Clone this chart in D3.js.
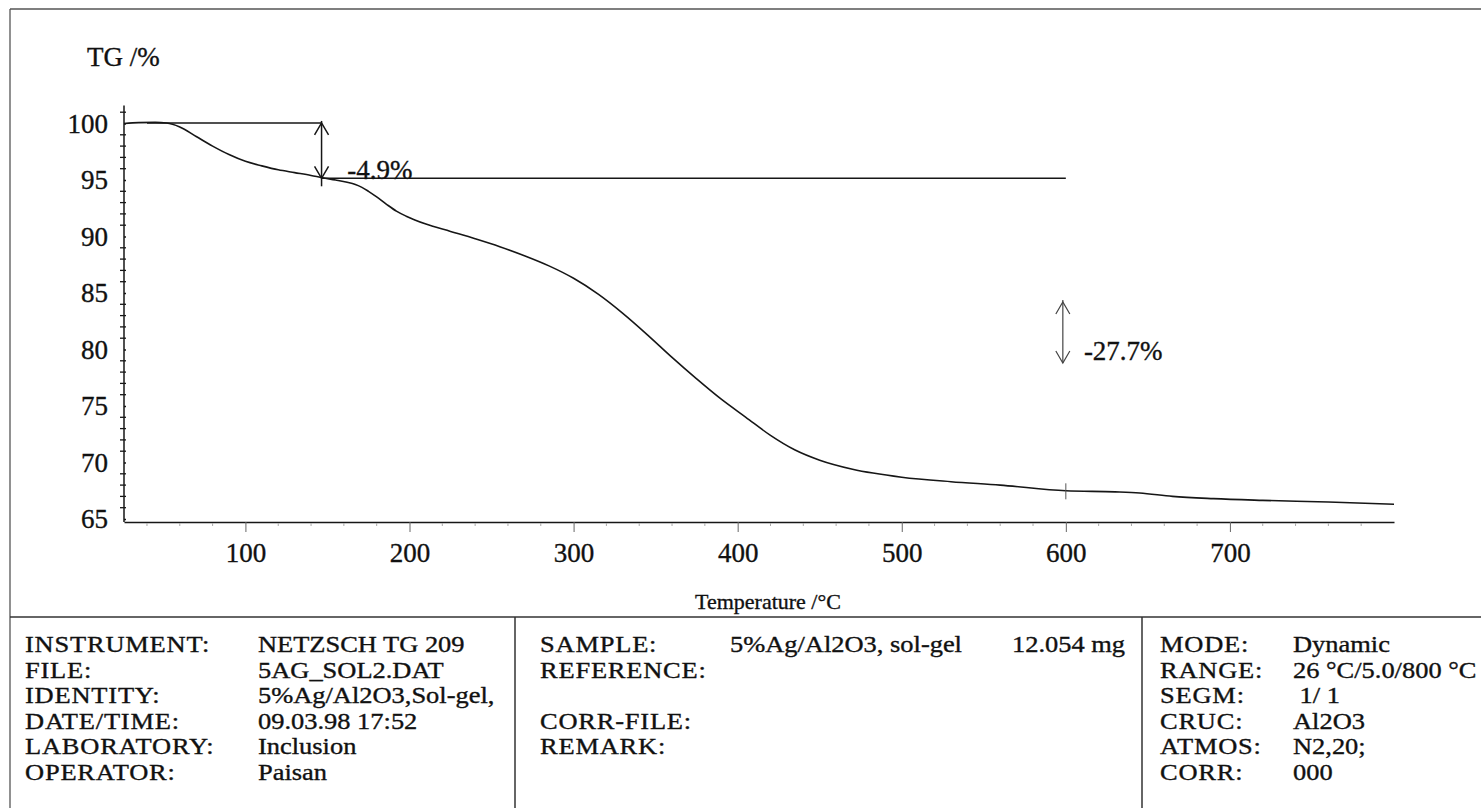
<!DOCTYPE html>
<html>
<head>
<meta charset="utf-8">
<script src="https://cdn.jsdelivr.net/npm/d3@7"></script>
<style>
  html, body { margin: 0; padding: 0; background: #fff; }
  svg { display: block; }
  text { font-family: "Liberation Serif", "Times New Roman", serif; fill: #111; stroke: #111; stroke-width: 0.35px; }
</style>
</head>
<body>
<svg id="chart" width="1481" height="808"></svg>
<script>
// TG curve: temperature (°C) and remaining mass (%)
const temperature = [26, 35, 45, 52, 60, 70, 80, 90, 100, 110, 120, 130, 140, 147, 155, 162, 167, 171, 175, 180,
  186, 192, 198, 210, 225, 240, 255, 270, 285, 300, 315, 330, 345, 360, 375, 390, 405, 420, 435, 450,
  470, 500, 530, 560, 600, 630, 645, 665, 690, 720, 760, 800];
const tgPercent = [100.0, 100.08, 100.1, 100.05, 99.7, 98.85, 98.0, 97.25, 96.65, 96.25, 95.9, 95.65, 95.4, 95.2, 95.0, 94.8, 94.6, 94.35, 94.0, 93.5,
  92.85, 92.25, 91.8, 91.1, 90.45, 89.8, 89.1, 88.3, 87.4, 86.3, 84.9, 83.2, 81.3, 79.3, 77.4, 75.6, 74.0, 72.4, 71.1, 70.2,
  69.4, 68.7, 68.3, 68.0, 67.5, 67.4, 67.3, 67.0, 66.8, 66.65, 66.5, 66.3];

const xTickValues = [100, 200, 300, 400, 500, 600, 700];
const yTickValues = [65, 70, 75, 80, 85, 90, 95, 100];

// Mass-loss steps
const stepLabels = ["-4.9%", "-27.7%"];
const stepLosses = [-4.9, -27.7];
const stepTemps = [146.4, 600];
const plateauLevel = [100.05];
const plateauFrom = [40];
const stepArrowSpan = [84.2, 78.8];   // short marker arrow for the second step
const stepLabelPos = [[162, 95.1], [611, 79.1]];

// Measurement info block
const infoLabels1 = ["INSTRUMENT:", "FILE:", "IDENTITY:", "DATE/TIME:", "LABORATORY:", "OPERATOR:"];
const infoValues1 = ["NETZSCH TG 209", "5AG_SOL2.DAT", "5%Ag/Al2O3,Sol-gel,", "09.03.98 17:52", "Inclusion", "Paisan"];
const infoLabels2 = ["SAMPLE:", "REFERENCE:", "", "CORR-FILE:", "REMARK:", ""];
const infoValues2 = ["5%Ag/Al2O3, sol-gel", "", "", "", "", ""];
const infoMass2 = ["12.054 mg", "", "", "", "", ""];
const infoLabels3 = ["MODE:", "RANGE:", "SEGM:", "CRUC:", "ATMOS:", "CORR:"];
const infoValues3 = ["Dynamic", "26 °C/5.0/800 °C", "\u00a01/ 1", "Al2O3", "N2,20;", "000"];

const svg = d3.select("#chart");
const ink = "#161616";

const x = d3.scaleLinear().domain([26, 800]).range([124, 1394]);
const y = d3.scaleLinear().domain([65, 100]).range([519, 123.5]);
const axisY = 522;

// outer frame
svg.append("line").attr("x1", 10).attr("x2", 1481).attr("y1", 9).attr("y2", 9)
  .attr("stroke", "#555").attr("stroke-width", 1.3);
svg.append("line").attr("x1", 10).attr("x2", 10).attr("y1", 9).attr("y2", 808)
  .attr("stroke", "#555").attr("stroke-width", 1.3);

// y axis
const gy = svg.append("g").attr("transform", `translate(${x(26)},0)`)
  .call(d3.axisLeft(y).tickValues(yTickValues).tickSize(10).tickSizeOuter(0).tickPadding(6));
gy.select(".domain").remove();
gy.selectAll(".tick line").attr("x2", 2).attr("stroke", ink).attr("stroke-width", 1.5);
gy.selectAll(".tick text").attr("font-size", 27).attr("fill", "#111")
  .style("font-family", '"Liberation Serif", serif');
gy.append("line").attr("x1", 0).attr("x2", 0).attr("y1", y(101.6)).attr("y2", axisY)
  .attr("stroke", ink).attr("stroke-width", 1.5);
gy.selectAll(".minor").data(d3.range(66, 102).filter(v => v % 5 !== 0)).join("line")
  .attr("class", "minor").attr("x1", -4).attr("x2", 2)
  .attr("y1", d => y(d)).attr("y2", d => y(d)).attr("stroke", ink).attr("stroke-width", 1.3);

// x axis
const gx = svg.append("g").attr("transform", `translate(0,${axisY})`)
  .call(d3.axisBottom(x).tickValues(xTickValues).tickSize(10).tickSizeOuter(0));
gx.select(".domain").attr("stroke", ink).attr("stroke-width", 1.6);
gx.selectAll(".tick line").attr("stroke", "#666").attr("stroke-width", 1);
gx.selectAll(".tick text").attr("font-size", 27).attr("dy", null).attr("y", 40).attr("fill", "#111")
  .style("font-family", '"Liberation Serif", serif');
gx.selectAll(".minor").data(d3.range(40, 800, 20).filter(v => v % 100 !== 0)).join("line")
  .attr("class", "minor").attr("x1", d => x(d)).attr("x2", d => x(d))
  .attr("y1", 1).attr("y2", 4).attr("stroke", "#aaa").attr("stroke-width", 1);

// axis titles
svg.append("text").attr("x", 87).attr("y", 66).attr("font-size", 27).text("TG /%");
svg.append("text").attr("x", 768).attr("y", 609).attr("text-anchor", "middle")
  .attr("font-size", 22).text("Temperature /°C");

// TG curve
svg.append("path")
  .datum(temperature.map((t, i) => [t, tgPercent[i]]))
  .attr("fill", "none").attr("stroke", ink).attr("stroke-width", 1.6)
  .attr("d", d3.line().x(d => x(d[0])).y(d => y(d[1])).curve(d3.curveMonotoneX));

// step construction lines
const level1 = plateauLevel[0];
const level2 = level1 + stepLosses[0];
const level3 = level2 + stepLosses[1];
const ann = svg.append("g").attr("stroke", ink).attr("stroke-width", 1.5).attr("fill", "none");
ann.append("line").attr("x1", x(plateauFrom[0])).attr("x2", x(stepTemps[0]))
  .attr("y1", y(level1)).attr("y2", y(level1));
ann.append("line").attr("x1", x(stepTemps[0])).attr("x2", x(stepTemps[1]))
  .attr("y1", y(level2)).attr("y2", y(level2));

function doubleArrow(g, px, yTop, yBot, overshoot) {
  g.append("line").attr("x1", px).attr("x2", px).attr("y1", yTop - 2).attr("y2", yBot + overshoot);
  g.append("path").attr("d", `M${px - 7},${yTop + 12}L${px},${yTop}L${px + 7},${yTop + 12}`);
  g.append("path").attr("d", `M${px - 7},${yBot - 12}L${px},${yBot}L${px + 7},${yBot - 12}`);
}
doubleArrow(ann, x(stepTemps[0]), y(level1), y(level2), 8);
const ann2 = svg.append("g").attr("stroke", "#444").attr("stroke-width", 1.2).attr("fill", "none");
doubleArrow(ann2, x(stepTemps[1]) - 3, y(stepArrowSpan[0]), y(stepArrowSpan[1]), 0);
// marker on the curve at the end of the evaluation range
ann.append("line").attr("x1", x(stepTemps[1])).attr("x2", x(stepTemps[1]))
  .attr("y1", y(level3) - 8).attr("y2", y(level3) + 8).attr("stroke", "#555").attr("stroke-width", 1);

svg.append("text").attr("x", x(stepLabelPos[0][0])).attr("y", y(stepLabelPos[0][1]))
  .attr("font-size", 27).text(stepLabels[0]);
svg.append("text").attr("x", x(stepLabelPos[1][0])).attr("y", y(stepLabelPos[1][1]))
  .attr("font-size", 27).text(stepLabels[1]);

// info block
const tableTop = 617;
svg.append("line").attr("x1", 10).attr("x2", 1481).attr("y1", tableTop).attr("y2", tableTop)
  .attr("stroke", "#333").attr("stroke-width", 1.5);
[515, 1142].forEach(cx => svg.append("line").attr("x1", cx).attr("x2", cx)
  .attr("y1", tableTop).attr("y2", 808).attr("stroke", "#333").attr("stroke-width", 1.5));

// the printout font is set wide; stretch a 23px face horizontally to suit
const rowY = i => 652 + i * 25.6;
const widen = 1.15;
function column(labels, xPos, spacing) {
  svg.append("g").selectAll("text").data(labels).join("text")
    .attr("transform", (d, i) => `translate(${xPos},${rowY(i)}) scale(${widen},1)`)
    .attr("font-size", 23)
    .attr("letter-spacing", spacing).text(d => d);
}
column(infoLabels1, 25, 0.7);
column(infoValues1, 258, 0);
column(infoLabels2, 540, 0.7);
column(infoValues2, 730, 0);
column(infoMass2, 1012, 0);
column(infoLabels3, 1160, 0.7);
column(infoValues3, 1293, 0);
</script>
</body>
</html>
